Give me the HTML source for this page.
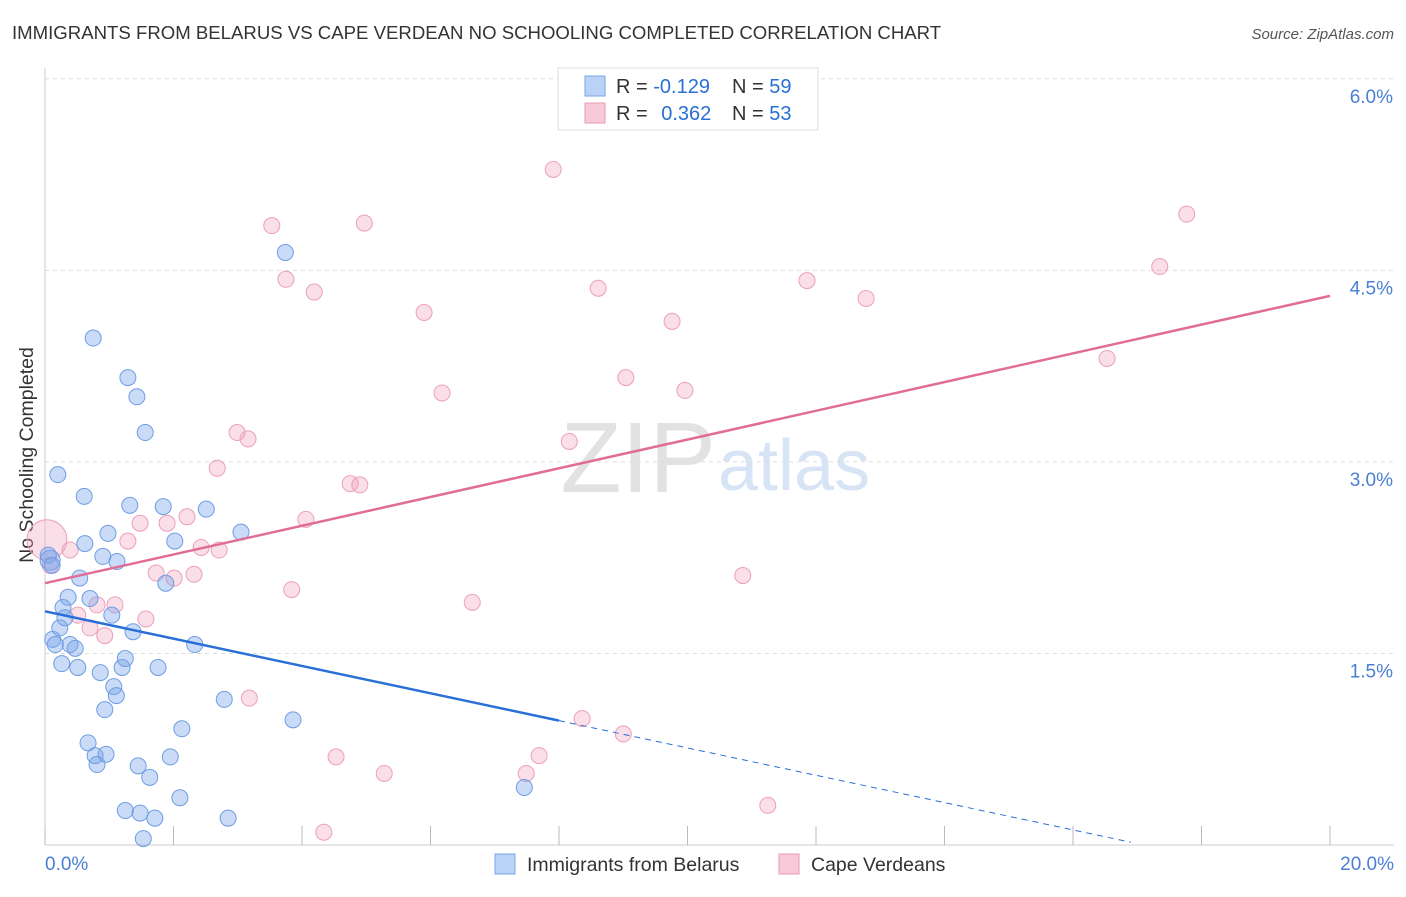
<!DOCTYPE html>
<html><head><meta charset="utf-8"><style>
body{margin:0;background:#fff;font-family:"Liberation Sans",sans-serif;}
svg text{font-family:"Liberation Sans",sans-serif;}
</style></head><body>
<svg id="chart" width="1406" height="892">
<text x="12" y="39" font-size="18.6" fill="#333">IMMIGRANTS FROM BELARUS VS CAPE VERDEAN NO SCHOOLING COMPLETED CORRELATION CHART</text>
<text x="1394" y="39" font-size="15" fill="#555" font-style="italic" text-anchor="end">Source: ZipAtlas.com</text>
<text x="33" y="455" font-size="19.5" fill="#333" transform="rotate(-90 33 455)" text-anchor="middle">No Schooling Completed</text>
<text x="716" y="492" font-size="100" fill="#e2e2e2" text-anchor="end" font-family="Liberation Serif">ZIP</text>
<text x="718" y="490" font-size="72" fill="#d6e4f5">atlas</text>
<g id="grid"></g><g id="ticks"></g><g id="pts"></g><g id="lines"></g>
<g>
<rect x="558" y="68" width="260" height="62" fill="#fff" stroke="#ddd"/>
<rect x="585" y="76" width="20" height="20" fill="#b9d2f5" stroke="#7aa5e6"/>
<rect x="585" y="103" width="20" height="20" fill="#f8c9d8" stroke="#ea9ab6"/>
<text x="616" y="93" font-size="20" fill="#333">R = <tspan fill="#2a6fd6">-0.129</tspan></text>
<text x="732" y="93" font-size="20" fill="#333">N = <tspan fill="#2a6fd6">59</tspan></text>
<text x="616" y="120" font-size="20" fill="#333">R = <tspan fill="#2a6fd6" dx="8">0.362</tspan></text>
<text x="732" y="120" font-size="20" fill="#333">N = <tspan fill="#2a6fd6">53</tspan></text>
</g>
<g>
<rect x="495" y="854" width="20" height="20" fill="#b9d2f5" stroke="#7aa5e6"/>
<text x="527" y="871" font-size="19.5" fill="#333">Immigrants from Belarus</text>
<rect x="779" y="854" width="20" height="20" fill="#f8c9d8" stroke="#ea9ab6"/>
<text x="811" y="871" font-size="19.5" fill="#333">Cape Verdeans</text>
</g>
</svg>
<script>
const blueX=[0.08,0.12,0.16,0.20,0.23,0.26,0.28,0.31,0.36,0.39,0.47,0.51,0.54,0.61,0.62,0.67,0.70,0.75,0.78,0.81,0.86,0.90,0.93,0.95,0.98,1.04,1.07,1.11,1.12,1.20,1.25,1.25,1.29,1.32,1.37,1.43,1.45,1.48,1.53,1.56,1.63,1.71,1.76,1.84,1.88,1.95,2.02,2.10,2.13,2.33,2.51,2.79,2.85,3.05,3.74,3.86,7.46,0.05,0.11];
const blueY=[2.23,1.61,1.57,2.90,1.70,1.42,1.86,1.78,1.94,1.57,1.54,1.39,2.09,2.73,2.36,0.80,1.93,3.97,0.70,0.63,1.35,2.26,1.06,0.71,2.44,1.80,1.24,1.17,2.22,1.39,1.46,0.27,3.66,2.66,1.67,3.51,0.62,0.25,0.05,3.23,0.53,0.21,1.39,2.65,2.05,0.69,2.38,0.37,0.91,1.57,2.63,1.14,0.21,2.45,4.64,0.98,0.45,2.27,2.19];
const pinkX=[0.03,0.08,0.39,0.51,0.70,0.81,0.93,1.09,1.29,1.48,1.57,1.73,1.90,2.01,2.21,2.32,2.43,2.68,2.71,2.99,3.16,3.18,3.53,3.75,3.84,4.06,4.19,4.34,4.53,4.75,4.90,4.97,5.28,5.90,6.18,6.65,7.49,7.69,7.91,8.16,8.36,8.61,9.00,9.04,9.76,9.96,10.86,11.25,11.86,12.78,16.53,17.35,17.77];
const pinkY=[2.39,2.19,2.31,1.80,1.70,1.88,1.64,1.88,2.38,2.52,1.77,2.13,2.52,2.09,2.57,2.12,2.33,2.95,2.31,3.23,3.18,1.15,4.85,4.43,2.00,2.55,4.33,0.10,0.69,2.83,2.82,4.87,0.56,4.17,3.54,1.90,0.56,0.70,5.29,3.16,0.99,4.36,0.87,3.66,4.10,3.56,2.11,0.31,4.42,4.28,3.81,4.53,4.94];
const yTicks=[1.5,3.0,4.5,6.0];
const yTickLabels=["1.5%","3.0%","4.5%","6.0%"];
const xTicks=[0,2,4,6,8,10,12,14,16,18,20];
const blueTrend=[1.83,-0.107]; // intercept, slope
const pinkTrend=[2.05,0.1125];
const X=v=>45+v*64.25, Y=v=>845-v*127.7;
const NS="http://www.w3.org/2000/svg";
function mk(tag,attrs,parent){const e=document.createElementNS(NS,tag);for(const k in attrs)e.setAttribute(k,attrs[k]);document.getElementById(parent).appendChild(e);return e;}
yTicks.forEach((t,i)=>{
 const g=mk('line',{x1:45,x2:1394,y1:Y(t),y2:Y(t),stroke:'#ddd','stroke-dasharray':'4,4'},'grid');
 
 
 const tx=mk('text',{x:1393,y:Y(t)+24,'font-size':19,fill:'#4a7fd4','text-anchor':'end'},'ticks');
 tx.textContent=yTickLabels[i];
 
 
});
const ax=mk('line',{x1:45,x2:45,y1:68,y2:845,stroke:'#ccc'},'grid');


const bx=mk('line',{x1:45,x2:1394,y1:845,y2:845,stroke:'#ccc'},'grid');


xTicks.forEach(t=>{
 const l=mk('line',{x1:X(t),x2:X(t),y1:826,y2:845,stroke:'#bbb'},'ticks');
 
 
});
const xl0=mk('text',{x:45,y:870,'font-size':19,fill:'#4a7fd4'},'ticks');xl0.textContent='0.0%';


const xl1=mk('text',{x:1394,y:870,'font-size':19,fill:'#4a7fd4','text-anchor':'end'},'ticks');xl1.textContent='20.0%';


pinkX.forEach((v,i)=>{
 const c=mk('circle',{cx:X(v),cy:Y(pinkY[i]),r:i===0?20:8,fill:'rgba(242,160,188,0.35)',stroke:'#eba0bb','stroke-width':1},'pts');
 
 
});
blueX.forEach((v,i)=>{
 const c=mk('circle',{cx:X(v),cy:Y(blueY[i]),r:i===0?10:8,fill:'rgba(120,165,235,0.4)',stroke:'#6f9de3','stroke-width':1},'pts');
 
 
});
const bl=mk('line',{x1:X(0),y1:Y(blueTrend[0]),x2:X(8),y2:Y(blueTrend[0]+8*blueTrend[1]),stroke:'#2a6fd6','stroke-width':2.5},'lines');


const bd=mk('line',{x1:X(8),y1:Y(blueTrend[0]+8*blueTrend[1]),x2:X(16.9),y2:Y(blueTrend[0]+16.9*blueTrend[1]),stroke:'#2a6fd6','stroke-width':1,'stroke-dasharray':'6,5'},'lines');


const pl=mk('line',{x1:X(0),y1:Y(pinkTrend[0]),x2:X(20),y2:Y(pinkTrend[0]+20*pinkTrend[1]),stroke:'#e06d97','stroke-width':2.5},'lines');


</script>
</body></html>
